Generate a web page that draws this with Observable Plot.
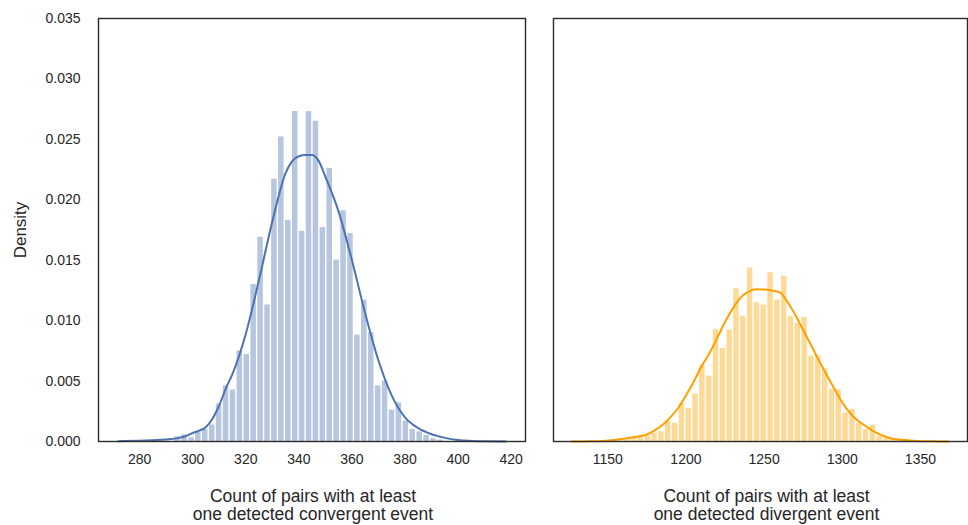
<!DOCTYPE html>
<html>
<head>
<meta charset="utf-8">
<script src="https://cdn.jsdelivr.net/npm/d3@7"></script>
<script src="https://cdn.jsdelivr.net/npm/@observablehq/plot@0.6"></script>
<style>
  body { margin: 0; background: #fff; }
  #wrap { position: relative; width: 968px; height: 525px; overflow: hidden; background: #fff; }
  #wrap svg { position: absolute; top: 0; }
</style>
</head>
<body>
<div id="wrap"></div>
<script>
// ---- data ----
const yTicks = [0, 0.005, 0.01, 0.015, 0.02, 0.025, 0.03, 0.035];
const convXTicks = [280, 300, 320, 340, 360, 380, 400, 420];
const divXTicks = [1150, 1200, 1250, 1300, 1350];

const convTitle = "Count of pairs with at least\none detected convergent event";
const divTitle = "Count of pairs with at least\none detected divergent event";
const yTitle = "Density";

// convergent histogram (density per bin)
const convBinStart = 293.0;
const convBinWidth = 2.606;
const convDensity = [0.0004, 0.00054, 0.0003, 0.0008, 0.001, 0.00137, 0.0031, 0.0046, 0.00426, 0.0075,
  0.0072, 0.0130, 0.0169, 0.0113, 0.0217, 0.0252, 0.0183, 0.0273, 0.0174, 0.0273,
  0.0265, 0.0177, 0.0226, 0.0150, 0.0191, 0.0172, 0.0088, 0.0117, 0.0090, 0.0046,
  0.0050, 0.0026, 0.0032, 0.0017, 0.0010, 0.0008, 0.0005, 0.00023, 0.00012];

// convergent KDE curve
const convKdeX = [272, 280, 285, 290, 295, 297.5, 300, 302.5, 305, 307.5, 310, 312.5, 315, 320, 325, 330, 335, 337.5,
  340, 342.5, 345, 347.5, 350, 355, 360, 365, 370, 375, 380, 385, 390, 395, 400, 405, 410, 418];
const convKdeY = [0.00003, 0.00007, 0.00011, 0.00017, 0.0003, 0.00045, 0.0007, 0.0009, 0.0012, 0.0019, 0.003, 0.0044, 0.0056, 0.0089, 0.0134, 0.0182, 0.0222, 0.0232,
  0.0236, 0.0237, 0.0237, 0.0232, 0.0219, 0.0190, 0.0150, 0.0106, 0.0067, 0.0038, 0.0020, 0.0011, 0.0006, 0.0003, 0.00012, 0.00005, 0.00002, 0.00001];

// divergent histogram (density per bin)
const divBinStart = 1155.98;
const divBinWidth = 4.362;
const divDensity = [0.00007, 0.00014, 0.00026, 0.00031, 0.00045, 0.00068, 0.00081, 0.0017, 0.0015, 0.00316,
  0.00275, 0.00393, 0.00633, 0.00542, 0.00928, 0.00771, 0.00922, 0.01264, 0.01038, 0.01435,
  0.01148, 0.01129, 0.01396, 0.0117, 0.01369, 0.01032, 0.00978, 0.01027, 0.00707, 0.00707,
  0.0060, 0.00432, 0.00426, 0.00238, 0.00266, 0.0015, 0.001, 0.00136, 0.00045, 0.00041,
  0.00026, 0.00018, 0.00012];

// divergent KDE curve
const divKdeX = [1127, 1135, 1145, 1155, 1165, 1175, 1180, 1185, 1190, 1195, 1200, 1205, 1210, 1215, 1220, 1225, 1230,
  1235, 1240, 1245, 1250, 1255, 1260, 1265, 1270, 1275, 1280, 1285, 1290, 1295, 1300, 1305, 1310, 1315, 1320,
  1325, 1330, 1340, 1350, 1360, 1368];
const divKdeY = [0.000005, 0.00001, 0.00003, 0.00015, 0.00033, 0.00058, 0.00092, 0.00136, 0.0020, 0.00277, 0.0038, 0.00495, 0.00622, 0.0073, 0.00856, 0.00988, 0.0110,
  0.0119, 0.0124, 0.01259, 0.01258, 0.0125, 0.01233, 0.01154, 0.01046, 0.00922, 0.00798, 0.00672, 0.00552, 0.00434, 0.00323, 0.00236, 0.00172, 0.00127, 0.00084,
  0.00055, 0.00029, 0.00012, 0.00003, 0.00001, 0.000005];

// ---- build tables ----
const convBins = convDensity.map((d, i) => ({x1: convBinStart + i * convBinWidth, x2: convBinStart + (i + 1) * convBinWidth, y: d}));
const divBins = divDensity.map((d, i) => ({x1: divBinStart + i * divBinWidth, x2: divBinStart + (i + 1) * divBinWidth, y: d}));
const convKde = convKdeX.map((x, i) => ({x, y: convKdeY[i]}));
const divKde = divKdeX.map((x, i) => ({x, y: divKdeY[i]}));

const font = "'Liberation Sans', Arial, Helvetica, sans-serif";
const textColor = "#262626";
const frameColor = "#2b2b2b";

const common = {
  height: 525,
  marginTop: 18,
  marginBottom: 84,
  style: {fontFamily: font, fontSize: "14px", color: textColor, background: "transparent", overflow: "visible"}
};

const left = Plot.plot({
  ...common,
  width: 540,
  marginLeft: 98,
  marginRight: 15,
  x: {domain: [264.5, 425.4]},
  y: {domain: [0, 0.035]},
  marks: [
    Plot.rectY(convBins, {x1: "x1", x2: "x2", y: "y", fill: "#b7c6df", insetLeft: 0.7, insetRight: 0.7}),
    Plot.line(convKde, {x: "x", y: "y", stroke: "#4c72b0", strokeWidth: 2, curve: "monotone-x"}),
    Plot.axisX({ticks: convXTicks, tickSize: 0, tickPadding: 13, label: null, tickFormat: d3.format("d"), fontSize: 14, fill: textColor}),
    Plot.axisY({ticks: yTicks, tickSize: 0, tickPadding: 18, label: null, tickFormat: d3.format(".3f"), fontSize: 14, fill: textColor}),
    Plot.text([convTitle], {frameAnchor: "bottom", lineAnchor: "middle", dy: 64, dx: 1, fontSize: 17.5, lineHeight: 1.04, fill: textColor}),
    Plot.text([yTitle], {frameAnchor: "left", textAnchor: "middle", lineAnchor: "middle", dx: -78, rotate: -90, fontSize: 17, fill: textColor}),
    Plot.frame({stroke: frameColor, strokeWidth: 1.4})
  ]
});

const right = Plot.plot({
  ...common,
  width: 428,
  marginLeft: 13,
  marginRight: 1,
  x: {domain: [1115.3, 1380.1]},
  y: {domain: [0, 0.035], axis: null},
  marks: [
    Plot.rectY(divBins, {x1: "x1", x2: "x2", y: "y", fill: "#ffda96", insetLeft: 0.7, insetRight: 0.7}),
    Plot.line(divKde, {x: "x", y: "y", stroke: "#ffa000", strokeWidth: 2, curve: "monotone-x"}),
    Plot.axisX({ticks: divXTicks, tickSize: 0, tickPadding: 13, label: null, tickFormat: d3.format("d"), fontSize: 14, fill: textColor}),
    Plot.text([divTitle], {frameAnchor: "bottom", lineAnchor: "middle", dy: 64, dx: 6, fontSize: 17.5, lineHeight: 1.04, fill: textColor}),
    Plot.frame({stroke: frameColor, strokeWidth: 1.4})
  ]
});

left.style.left = "0px";
right.style.left = "540px";
document.getElementById("wrap").append(left, right);
</script>
</body>
</html>
